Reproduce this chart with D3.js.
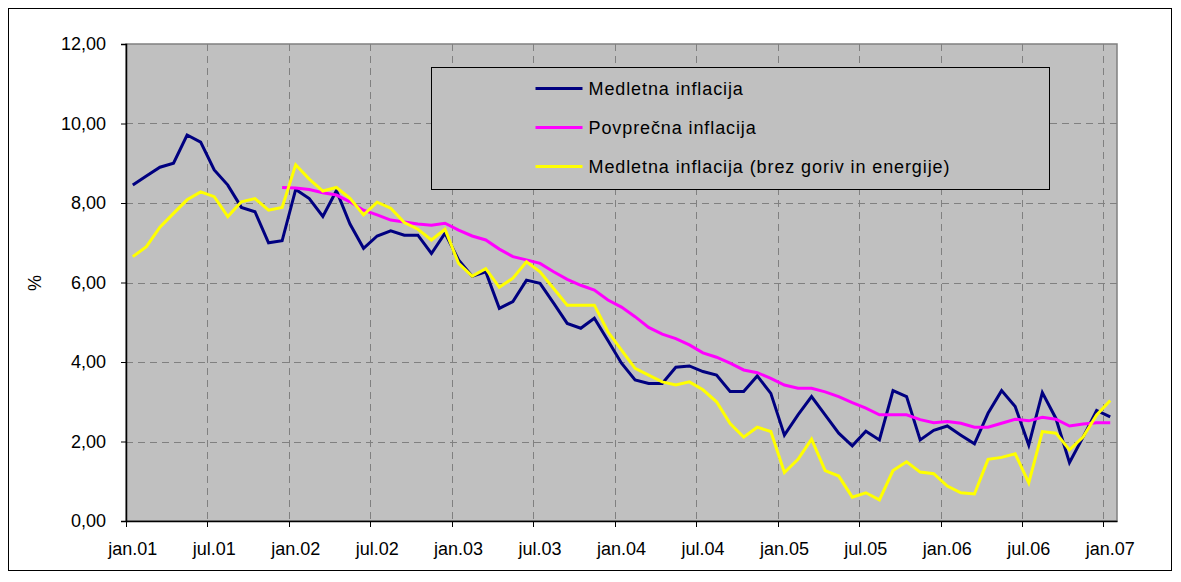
<!DOCTYPE html>
<html>
<head>
<meta charset="utf-8">
<script src="https://cdn.jsdelivr.net/npm/d3@7"></script>
<style>
    body { margin: 0; background: #fff; }
    text { font-family: "Liberation Sans", Arial, sans-serif; }
</style>
</head>
<body>
<div id="chart"></div>
<script>
// Medletna in povprečna inflacija, jan.01 - jan.07 (monthly values, %)

let months = ["jan", "feb", "mar", "apr", "maj", "jun", "jul", "avg", "sep", "okt", "nov", "dec"];
let years = ["01", "02", "03", "04", "05", "06", "07"];

// Medletna inflacija
let medletna = [8.45, 8.68, 8.90, 9.00, 9.71, 9.53, 8.83, 8.45, 7.89, 7.78, 7.00, 7.05,
    8.34, 8.11, 7.66, 8.31, 7.47, 6.86, 7.17, 7.30, 7.19, 7.19, 6.73, 7.24,
    6.57, 6.16, 6.27, 5.35, 5.52, 6.06, 5.98, 5.48, 4.97, 4.85, 5.10, 4.54,
    3.97, 3.55, 3.46, 3.46, 3.87, 3.90, 3.76, 3.67, 3.26, 3.26, 3.65, 3.21,
    2.16, 2.67, 3.13, 2.67, 2.21, 1.89, 2.26, 2.04, 3.28, 3.13, 2.04, 2.28,
    2.39, 2.16, 1.94, 2.71, 3.28, 2.88, 1.91, 3.23, 2.58, 1.47, 2.11, 2.78,
    2.62];

// Povprečna inflacija (starts in dec.01)
let povprecna = [null, null, null, null, null, null, null, null, null, null, null, 8.39,
    8.38, 8.34, 8.26, 8.20, 8.03, 7.82, 7.70, 7.57, 7.52, 7.47, 7.44, 7.49,
    7.32, 7.17, 7.07, 6.84, 6.65, 6.57, 6.48, 6.27, 6.08, 5.93, 5.81, 5.56,
    5.38, 5.14, 4.87, 4.70, 4.59, 4.43, 4.23, 4.12, 3.97, 3.80, 3.73, 3.59,
    3.42, 3.34, 3.34, 3.25, 3.13, 2.98, 2.84, 2.67, 2.67, 2.67, 2.55, 2.47,
    2.50, 2.46, 2.36, 2.36, 2.46, 2.56, 2.52, 2.61, 2.56, 2.39, 2.44, 2.47,
    2.47];

// Medletna inflacija (brez goriv in energije)
let brezGoriv = [6.65, 6.90, 7.39, 7.74, 8.08, 8.28, 8.16, 7.66, 8.03, 8.11, 7.82, 7.89,
    8.96, 8.60, 8.30, 8.39, 8.12, 7.70, 8.02, 7.87, 7.51, 7.34, 7.07, 7.34,
    6.48, 6.16, 6.35, 5.88, 6.11, 6.52, 6.27, 5.85, 5.43, 5.43, 5.43, 4.76,
    4.30, 3.84, 3.67, 3.50, 3.42, 3.50, 3.30, 3.00, 2.45, 2.11, 2.36, 2.25,
    1.22, 1.55, 2.06, 1.27, 1.13, 0.60, 0.71, 0.53, 1.27, 1.49, 1.23, 1.19,
    0.88, 0.71, 0.68, 1.55, 1.60, 1.69, 0.96, 2.25, 2.21, 1.79, 2.11, 2.67,
    3.03];

let yTicks = [0, 2, 4, 6, 8, 10, 12];

// Category labels: jan.01, feb.01, ... jan.07
let categories = [];
years.forEach(function (yr) {
    months.forEach(function (m) {
        categories.push(m + "." + yr);
    });
});
categories = categories.slice(0, medletna.length);

// Only every sixth month gets a label / tick / gridline
let labelled = categories.filter((c, i) => i % 6 === 0);

let series = [
    {name: "Medletna inflacija", color: "#000080", values: medletna},
    {name: "Povprečna inflacija", color: "#ff00ff", values: povprecna},
    {name: "Medletna inflacija (brez goriv in energije)", color: "#ffff00", values: brezGoriv}
];

// Chart size
let svg_width = 1181,
    svg_height = 582;

let margin = {top: 44, right: 64, bottom: 61, left: 126},
    width = svg_width - margin.left - margin.right,
    height = svg_height - margin.top - margin.bottom;

let x = d3.scaleBand()
    .domain(categories)
    .range([0, width]);

let y = d3.scaleLinear()
    .domain([0, 12])
    .range([height, 0]);

let svg = d3.select("#chart")
    .append("svg")
    .attr("width", svg_width)
    .attr("height", svg_height);

// Outer chart border
svg.append("rect")
    .attr("x", 8.5)
    .attr("y", 8.5)
    .attr("width", 1163)
    .attr("height", 562)
    .attr("fill", "#fff")
    .attr("stroke", "#000")
    .attr("stroke-width", 1);

let g = svg.append("g")
    .attr("transform", `translate(${margin.left}, ${margin.top})`);

// Plot area
g.append("rect")
    .attr("width", width)
    .attr("height", height)
    .attr("fill", "#c0c0c0")
    .attr("stroke", "#808080")
    .attr("stroke-width", 1.5);

// Horizontal gridlines
g.append("g")
    .selectAll("line")
    .data(yTicks.filter(d => d > 0 && d < 12))
    .enter().append("line")
    .attr("x1", 0)
    .attr("x2", width)
    .attr("y1", d => Math.round(y(d)) + 0.5)
    .attr("y2", d => Math.round(y(d)) + 0.5)
    .attr("stroke", "#808080")
    .attr("stroke-dasharray", "7,5");

// Vertical gridlines, on the boundary before each labelled month
g.append("g")
    .selectAll("line")
    .data(labelled.slice(1))
    .enter().append("line")
    .attr("x1", d => Math.round(x(d)) + 0.5)
    .attr("x2", d => Math.round(x(d)) + 0.5)
    .attr("y1", 0)
    .attr("y2", height)
    .attr("stroke", "#808080")
    .attr("stroke-dasharray", "7,5");

// Y axis
let comma = d3.formatLocale({decimal: ",", thousands: ".", grouping: [3], currency: ["", ""]});

let yaxis = g.append("g")
    .call(d3.axisLeft(y)
        .tickValues(yTicks)
        .tickSize(5)
        .tickPadding(15)
        .tickFormat(comma.format(".2f")));
yaxis.select(".domain").attr("stroke", "#000").attr("stroke-width", 1.5);
yaxis.selectAll("text").attr("font-size", 18).attr("fill", "#000");

g.append("text")
    .attr("transform", `translate(${35 - margin.left}, ${283 - margin.top}) rotate(-90)`)
    .attr("text-anchor", "middle")
    .attr("dy", "0.35em")
    .attr("font-size", 18)
    .text("%");

// X axis: labels centred on the month, ticks on the boundary
let xaxis = g.append("g")
    .attr("transform", `translate(0, ${height})`)
    .call(d3.axisBottom(x)
        .tickValues(labelled)
        .tickSize(0)
        .tickPadding(21));
xaxis.select(".domain").attr("stroke", "#000").attr("stroke-width", 1.5);
xaxis.selectAll("text").attr("font-size", 18).attr("fill", "#000");

xaxis.selectAll(".xtick")
    .data(labelled)
    .enter().append("line")
    .attr("class", "xtick")
    .attr("x1", d => Math.round(x(d)) + 0.5)
    .attr("x2", d => Math.round(x(d)) + 0.5)
    .attr("y1", 0)
    .attr("y2", 6)
    .attr("stroke", "#000");

// Lines
let line = d3.line()
    .defined(d => d != null)
    .x((d, i) => x(categories[i]) + x.bandwidth() / 2)
    .y(d => y(d));

g.selectAll(".series")
    .data(series)
    .enter().append("path")
    .attr("class", "series")
    .attr("fill", "none")
    .attr("stroke", d => d.color)
    .attr("stroke-width", 3)
    .attr("stroke-linejoin", "miter")
    .attr("d", d => line(d.values));

// Legend
let legend = svg.append("g")
    .attr("transform", "translate(431.5, 67.5)");

legend.append("rect")
    .attr("width", 618)
    .attr("height", 122)
    .attr("fill", "#c0c0c0")
    .attr("stroke", "#000");

let item = legend.selectAll(".item")
    .data(series)
    .enter().append("g")
    .attr("class", "item")
    .attr("transform", (d, i) => `translate(0, ${21 + i * 39})`);

item.append("line")
    .attr("x1", 104)
    .attr("x2", 151)
    .attr("stroke", d => d.color)
    .attr("stroke-width", 3);

item.append("text")
    .attr("x", 157)
    .attr("dy", "0.35em")
    .attr("font-size", 18)
    .attr("letter-spacing", 0.9)
    .text(d => d.name);
</script>
</body>
</html>
